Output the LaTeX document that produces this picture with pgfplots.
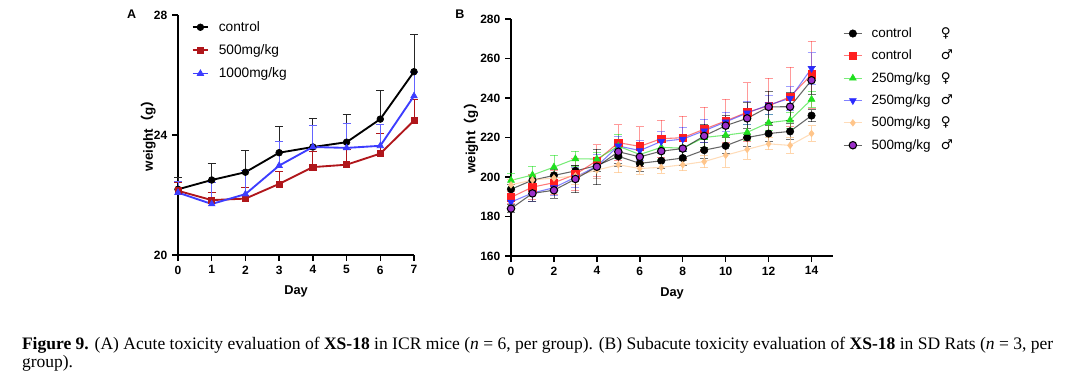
\documentclass[border=0pt]{standalone}
\usepackage{fontspec}
\setmainfont{Liberation Sans}
\newfontfamily\capfont{Liberation Serif}
\newfontfamily\cjk{Noto Sans CJK SC}
\newfontfamily\sym{DejaVu Sans}
\usepackage{pgfplots}
\usepackage{pgfplotstable}
\pgfplotsset{compat=1.18}

\definecolor{aRed}{HTML}{B0161B}
\definecolor{aBlue}{HTML}{3D3DFF}
\definecolor{bRed}{HTML}{FF1F1F}
\definecolor{bGreen}{HTML}{1FE01F}
\definecolor{bBlue}{HTML}{2B2BFF}
\definecolor{bPeach}{HTML}{FFC58A}
\definecolor{bPurple}{HTML}{9B30C8}

\pgfplotstableread{
day c ce m me h he
0 22.19 0.39 22.14 0.27 22.08 0.36
1 22.50 0.56 21.83 0.27 21.70 0.71
2 22.76 0.74 21.88 0.38 22.03 0.80
3 23.41 0.89 22.37 0.40 22.98 0.79
4 23.60 0.94 22.93 0.51 23.60 0.72
5 23.76 0.91 23.01 0.50 23.57 0.82
6 24.53 0.96 23.38 0.68 23.64 0.70
7 26.11 1.23 24.48 0.69 25.30 0.80
}\tabA

\pgfplotstableread{
day cf cfe cm cme lf lfe lm lme hf hfe hm hme
0 193.8 2.5 189.7 3.0 198.3 3.5 187.3 3.0 196.0 3.0 184.0 2.0
1 198.4 3.0 194.9 6.0 201.0 4.5 191.9 4.0 198.5 3.0 191.7 4.0
2 200.8 3.0 197.1 6.0 205.0 6.0 194.6 4.0 199.5 3.0 193.3 4.0
3 203.1 3.0 201.3 8.0 209.2 4.0 199.9 5.0 200.5 4.0 199.0 7.0
4 205.8 3.0 208.3 8.0 209.1 3.5 205.5 6.0 203.5 4.0 205.2 9.0
5 210.5 5.0 217.4 9.0 215.6 6.0 215.7 5.0 206.2 4.0 212.8 6.0
6 206.9 4.0 215.5 10.0 211.4 5.0 213.4 5.0 204.3 3.0 210.2 5.0
7 208.2 4.0 219.4 9.5 215.0 6.0 218.0 5.0 204.9 3.0 213.1 5.0
8 209.6 3.5 219.9 11.0 214.6 5.0 219.2 6.0 206.2 3.0 214.4 6.0
9 213.6 4.0 224.2 11.0 220.0 5.0 223.4 6.0 207.8 3.0 220.8 6.0
10 215.8 4.0 228.4 11.0 221.2 5.0 227.9 5.0 211.0 6.0 226.0 5.0
11 220.0 4.5 232.8 15.0 222.6 4.0 232.4 6.0 214.0 5.0 229.7 8.0
12 222.0 4.0 236.0 14.0 227.5 4.0 236.5 5.0 216.8 3.0 235.5 8.0
13 223.1 4.0 240.6 15.0 228.8 4.0 239.8 6.0 216.0 4.0 235.6 7.0
14 231.1 3.0 251.9 17.0 239.3 4.0 255.0 8.0 222.0 4.0 249.0 7.0
}\tabB

\pgfplotsset{
  common/.style={
    scale only axis, anchor=south west, clip=false,
    axis x line*=bottom, axis y line*=left,
    axis line style={line width=1.1pt, -},
    tick style={line width=1.1pt, black},
    tick align=outside, major tick length=4.5pt,
    tick label style={font=\fontsize{9}{10}\selectfont\bfseries},
    /pgf/number format/assume math mode=true,
    xlabel style={font=\fontsize{9.6}{11}\selectfont\bfseries},
    ylabel style={font=\fontsize{10}{11}\selectfont\bfseries},
    legend cell align=left,
  }
}

\begin{document}
\begin{tikzpicture}
% Panel A
\begin{axis}[common,
  at={(133.5pt,101.25pt)}, width=177pt, height=180pt,
  xmin=0, xmax=7, ymin=20, ymax=28,
  xtick={0,...,7}, ytick={20,24,28},
  xlabel={Day}, ylabel={weight{\cjk （}g{\cjk ）}},
  xlabel style={at={(axis description cs:0.5,-0.1625)}, anchor=base},
  ylabel style={at={(axis description cs:-0.125,0.51)}, anchor=center},
  legend style={draw=none, fill=none, at={(axis description cs:0.058,0.985)}, anchor=north west,
    inner sep=0pt, outer sep=0pt, row sep=4.4pt, column sep=5.2pt,
    font=\fontsize{10.3}{12}\selectfont},
  legend image code/.code={\draw[mark repeat=2,mark phase=2] plot coordinates {(0pt,0pt)(5.85pt,0pt)(11.7pt,0pt)};},
]
\addplot[black, line width=1.4pt, mark=*, mark size=2.5pt, mark options={line width=0.5pt},
  error bars/.cd, y dir=plus, y explicit,
  error bar style={line width=0.7pt, black!85},
  error mark options={rotate=90, black!85, line width=0.7pt, mark size=3pt}]
  table[x=day, y=c, y error=ce]{\tabA};
\addlegendentry{control}
\addplot[aRed, line width=1.4pt, mark=square*, mark size=2.3pt, mark options={line width=0.5pt},
  error bars/.cd, y dir=plus, y explicit,
  error bar style={line width=0.7pt, aRed},
  error mark options={rotate=90, aRed, line width=0.7pt, mark size=3pt}]
  table[x=day, y=m, y error=me]{\tabA};
\addlegendentry{500mg/kg}
\addplot[aBlue, line width=1.4pt, mark=triangle*, mark size=2.8pt, mark options={line width=0.5pt},
  error bars/.cd, y dir=plus, y explicit,
  error bar style={line width=0.7pt, aBlue!80},
  error mark options={rotate=90, aBlue!80, line width=0.7pt, mark size=3pt}]
  table[x=day, y=h, y error=he]{\tabA};
\addlegendentry{1000mg/kg}
\end{axis}

% Panel B
\begin{axis}[common,
  at={(383.25pt,100.5pt)}, width=241.5pt, height=177.75pt,
  xmin=0, xmax=15, ymin=160, ymax=280,
  xtick={0,2,...,14}, ytick={160,180,...,280},
  xlabel={Day}, ylabel={weight{\cjk （}g{\cjk ）}},
  xlabel style={at={(axis description cs:0.5,-0.172)}, anchor=base},
  ylabel style={at={(axis description cs:-0.124,0.51)}, anchor=center},
  legend style={draw=none, fill=none, at={(axis description cs:1.031,0.975)}, anchor=north west,
    inner sep=0pt, outer sep=0pt, row sep=3.9pt, column sep=4.6pt,
    font=\fontsize{10.1}{12}\selectfont},
  legend image code/.code={\draw[mark repeat=2,mark phase=2] plot coordinates {(0pt,0pt)(7pt,0pt)(14pt,0pt)};},
  every axis plot/.append style={line width=0.8pt, draw opacity=0.6},
]
\addplot[black, mark=*, mark size=2.8pt, mark options={draw opacity=1, line width=0.4pt},
  error bars/.cd, y dir=both, y explicit, error bar style={line width=0.6pt, draw opacity=0.55},
  error mark options={rotate=90, line width=0.6pt, mark size=3pt, draw opacity=0.55}]
  table[x=day, y=cf, y error=cfe]{\tabB};
\addlegendentry{\makebox[52pt][l]{control}{\sym ♀}}
\addplot[bRed, mark=square*, mark size=2.8pt, mark options={draw opacity=1, line width=0.4pt},
  error bars/.cd, y dir=both, y explicit, error bar style={line width=0.6pt, draw opacity=0.45},
  error mark options={rotate=90, line width=0.6pt, mark size=3pt, draw opacity=0.45}]
  table[x=day, y=cm, y error=cme]{\tabB};
\addlegendentry{\makebox[52pt][l]{control}{\sym ♂}}
\addplot[bGreen, mark=triangle*, mark size=3pt, mark options={draw opacity=1, line width=0.4pt},
  error bars/.cd, y dir=both, y explicit, error bar style={line width=0.6pt, draw opacity=0.55},
  error mark options={rotate=90, line width=0.6pt, mark size=3pt, draw opacity=0.55}]
  table[x=day, y=lf, y error=lfe]{\tabB};
\addlegendentry{\makebox[52pt][l]{250mg/kg}{\sym ♀}}
\addplot[bBlue, mark=triangle*, mark size=3pt, mark options={draw opacity=1, line width=0.4pt, rotate=180},
  error bars/.cd, y dir=both, y explicit, error bar style={line width=0.6pt, draw opacity=0.45},
  error mark options={rotate=90, line width=0.6pt, mark size=3pt, draw opacity=0.45}]
  table[x=day, y=lm, y error=lme]{\tabB};
\addlegendentry{\makebox[52pt][l]{250mg/kg}{\sym ♂}}
\addplot[bPeach, mark=diamond*, mark size=2.5pt, mark options={draw opacity=1, line width=0.4pt},
  error bars/.cd, y dir=both, y explicit, error bar style={line width=0.6pt, draw opacity=0.7},
  error mark options={rotate=90, line width=0.6pt, mark size=3pt, draw opacity=0.7}]
  table[x=day, y=hf, y error=hfe]{\tabB};
\addlegendentry{\makebox[52pt][l]{500mg/kg}{\sym ♀}}
\addplot[black, mark=*, mark size=2.8pt, mark options={draw opacity=1, fill=bPurple, draw=black, line width=0.8pt},
  error bars/.cd, y dir=both, y explicit, error bar style={line width=0.6pt, draw opacity=0.55},
  error mark options={rotate=90, line width=0.6pt, mark size=3pt, draw opacity=0.55}]
  table[x=day, y=hm, y error=hme]{\tabB};
\addlegendentry{\makebox[52pt][l]{500mg/kg}{\sym ♂}}
\end{axis}

\node[font=\fontsize{9.4}{10}\selectfont\bfseries] at (98.8pt,282pt) {A};
\node[font=\fontsize{9.4}{10}\selectfont\bfseries] at (345pt,282pt) {B};

\node[anchor=base west, align=left, inner sep=0pt, font=\capfont\fontsize{13.15}{13.5}\selectfont]
  at (16.3pt,17.25pt)
  {\textbf{Figure 9.} (A) Acute toxicity evaluation of \textbf{XS-18} in ICR mice (\textit{n} = 6, per group). (B) Subacute toxicity evaluation of \textbf{XS-18} in SD Rats (\textit{n} = 3, per\\ group).};

\pgfresetboundingbox
\path[use as bounding box] (0,0) rectangle (810pt,292.5pt);
\end{tikzpicture}
\end{document}
